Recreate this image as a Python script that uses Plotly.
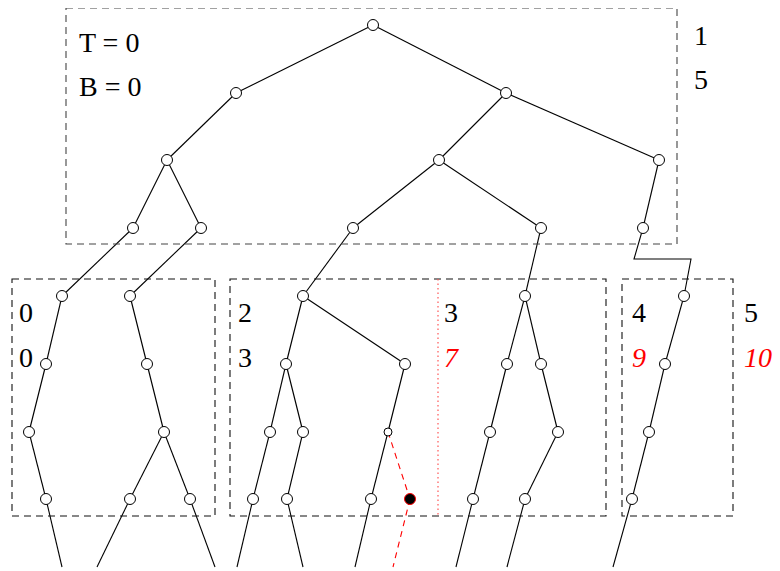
import plotly.graph_objects as go

# ---- data: node positions per level (x), level heights (y) ----
level_y = [25, 93, 160, 228, 296, 364, 432, 499, 567]
level_x = [
    [373],
    [236, 506],
    [167, 439, 659],
    [133, 201, 353, 541, 643],
    [62, 130, 303, 525, 684],
    [46, 147, 286, 405, 507, 541, 665],
    [29, 164, 270, 303, 388, 490, 558, 649],
    [46, 130, 190, 253, 287, 371, 410, 473, 525, 632],
    [62, 97, 215, 237, 303, 355, 393, 456, 507, 613],   # open ends
]
# parent index (in previous level) of each node
parents = [
    [],
    [0, 0],
    [0, 1, 1],
    [0, 0, 1, 1, 2],
    [0, 1, 2, 3, 4],
    [0, 1, 2, 2, 3, 3, 4],
    [0, 1, 2, 2, 3, 4, 5, 6],
    [0, 1, 1, 2, 3, 4, 4, 5, 6, 7],
    [0, 1, 2, 3, 4, 5, 6, 7, 8, 9],
]
red_edges = [(7, 6), (8, 6)]          # (level, child index) drawn red dashed
jog_edge = (4, 4)                     # edge drawn with a step
jog_x = [634, 691]
jog_y = 259
small_node = (6, 4)
filled_node = (7, 6)

# boxes: x0, x1, y0, y1
boxes = [(66, 677, 8, 244), (12, 215, 279, 516), (230, 606, 279, 516), (622, 733, 279, 516)]
box_colors = ["#444444", "#111111", "#111111", "#111111"]
divider_x = 438

top_labels = ["T = 0", "B = 0"]
top_label_x = 78
right_top = ["1", "5"]
right_top_x = 693
row_labels_top = ["0", "2", "3", "4", "5"]
row_labels_bot = ["0", "3", "7", "9", "10"]
row_label_x = [18, 237, 443, 631, 743]
row_red = [False, False, True, True, True]
label_rows_y = [[42, 86], [312, 357]]

PAGE_OFFSET = 8   # default body margin of the html page

fig = go.Figure()

# edges
bx, by = [], []
for lv in range(1, len(level_x)):
    for i, p in enumerate(parents[lv]):
        if (lv, i) in red_edges:
            continue
        x0, y0 = level_x[lv - 1][p], level_y[lv - 1]
        x1, y1 = level_x[lv][i], level_y[lv]
        if (lv, i) == jog_edge:
            bx += [x0, jog_x[0], jog_x[1], x1, None]
            by += [y0, jog_y, jog_y, y1, None]
        else:
            bx += [x0, x1, None]
            by += [y0, y1, None]
fig.add_trace(go.Scatter(x=bx, y=by, mode="lines", line=dict(color="black", width=1.1),
                         hoverinfo="skip", showlegend=False))
rx, ry = [], []
for lv, i in red_edges:
    p = parents[lv][i]
    rx += [level_x[lv - 1][p], level_x[lv][i], None]
    ry += [level_y[lv - 1], level_y[lv], None]
fig.add_trace(go.Scatter(x=rx, y=ry, mode="lines", line=dict(color="red", width=1.1, dash="6px,5px"),
                         hoverinfo="skip", showlegend=False))

# nodes
nx, ny, ns = [], [], []
for lv in range(0, len(level_x) - 1):
    for i, x in enumerate(level_x[lv]):
        if (lv, i) == filled_node:
            continue
        nx.append(x)
        ny.append(level_y[lv])
        ns.append(8 if (lv, i) == small_node else 11)
fig.add_trace(go.Scatter(x=nx, y=ny, mode="markers",
                         marker=dict(size=ns, color="white", opacity=1, line=dict(color="black", width=1)),
                         hoverinfo="skip", showlegend=False))
fl, fi = filled_node
fig.add_trace(go.Scatter(x=[level_x[fl][fi]], y=[level_y[fl]], mode="markers",
                         marker=dict(size=11, color="black", line=dict(color="red", width=1)),
                         hoverinfo="skip", showlegend=False))

shapes = []
for (x0, x1, y0, y1), c in zip(boxes, box_colors):
    shapes.append(dict(type="rect", x0=x0, x1=x1, y0=y0, y1=y1, xref="x", yref="y",
                       line=dict(color=c, width=1.1, dash="7px,5px")))
shapes.append(dict(type="line", x0=divider_x, x1=divider_x, y0=boxes[2][2], y1=boxes[2][3],
                   xref="x", yref="y", line=dict(color="#ff5555", width=1.2, dash="1.5px,3px")))

font = "Liberation Serif, Times New Roman, serif"
ann = []
for t, yy in zip(top_labels, label_rows_y[0]):
    ann.append(dict(x=top_label_x, y=yy, text=t))
for t, yy in zip(right_top, label_rows_y[0]):
    ann.append(dict(x=right_top_x, y=yy - 7, text=t))
for k, x in enumerate(row_label_x):
    ann.append(dict(x=x, y=label_rows_y[1][0], text=row_labels_top[k]))
    if row_red[k]:
        ann.append(dict(x=x, y=label_rows_y[1][1], text="<i>" + row_labels_bot[k] + "</i>",
                        font=dict(family=font, size=28, color="red")))
    else:
        ann.append(dict(x=x, y=label_rows_y[1][1], text=row_labels_bot[k]))
for a in ann:
    a.setdefault("font", dict(family=font, size=28, color="black"))
    a.update(xref="x", yref="y", xanchor="left", yanchor="middle", showarrow=False, borderpad=0)

W, H = 780, 571
fig.update_layout(
    width=W - PAGE_OFFSET, height=H - PAGE_OFFSET, margin=dict(l=0, r=0, t=0, b=0),
    plot_bgcolor="white", paper_bgcolor="white",
    xaxis=dict(range=[PAGE_OFFSET, W], visible=False, fixedrange=True),
    yaxis=dict(range=[H, PAGE_OFFSET], visible=False, fixedrange=True),
    shapes=shapes, annotations=ann,
)
fig.write_html("out.html")
